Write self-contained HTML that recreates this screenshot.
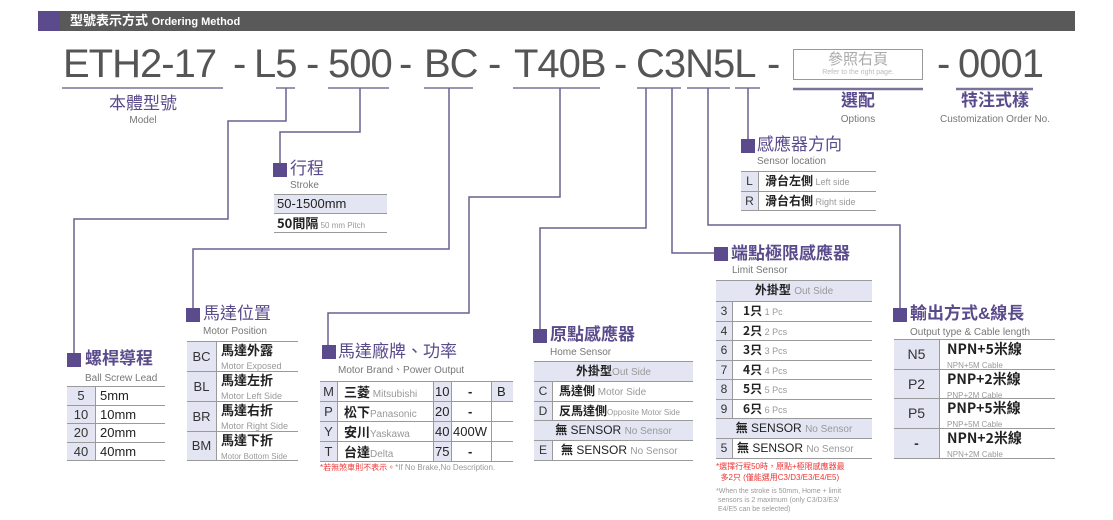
<!DOCTYPE html>
<html><head><meta charset="utf-8"><style>
*{margin:0;padding:0;box-sizing:border-box}
body{width:1113px;height:520px;background:#fff;position:relative;overflow:hidden;font-family:"Liberation Sans","Noto Sans CJK TC",sans-serif;color:#222}
.a{position:absolute;white-space:nowrap}
.big{font-size:40px;color:#555;line-height:40px;top:44px;letter-spacing:-1px}
.sq{position:absolute;width:14px;height:14px;background:#5b4a8c}
.h{position:absolute;font-size:17px;color:#5a4b8c;line-height:18px;white-space:nowrap;font-family:"Liberation Sans","Noto Sans CJK TC",sans-serif}
.s{position:absolute;font-size:10px;color:#777;line-height:11px;white-space:nowrap}
.r{position:absolute;left:0;right:0;border-bottom:1.5px solid #9a9a9a;white-space:nowrap}
.bg{background:#e3e5f2}
.c1{position:absolute;left:0;top:0;bottom:0;background:#e3e5f2;border-right:1.5px solid #9a9a9a;text-align:center;color:#333}
.zh{font-family:"Noto Sans CJK TC",sans-serif;font-weight:bold;color:#222}
.g{color:#999;font-weight:normal;font-family:"Liberation Sans",sans-serif}
</style></head><body>
<div class="a" style="left:38px;top:11px;width:1037px;height:20px;background:#595959"></div>
<div class="a" style="left:38px;top:11px;width:22px;height:20px;background:#5b4a8c"></div>
<div class="a" style="left:70px;top:12px;font-size:13px;line-height:18px;color:#fff;font-weight:bold">型號表示方式 <span style="font-size:11px">Ordering Method</span></div>

<div class="a big" style="left:63px">ETH2-17</div>
<div class="a big" style="left:233px">-</div>
<div class="a big" style="left:254px">L5</div>
<div class="a big" style="left:306px">-</div>
<div class="a big" style="left:328px">500</div>
<div class="a big" style="left:399px">-</div>
<div class="a big" style="left:424px">BC</div>
<div class="a big" style="left:488px">-</div>
<div class="a big" style="left:514px">T40B</div>
<div class="a big" style="left:614px">-</div>
<div class="a big" style="left:636px">C3N5L</div>
<div class="a big" style="left:767px">-</div>
<div class="a big" style="left:937px">-</div>
<div class="a big" style="left:958px">0001</div>
<div class="a" style="left:793px;top:49px;width:130px;height:31px;border:1.5px solid #999"></div>
<div class="a" style="left:793px;top:51px;width:130px;text-align:center;font-size:15px;color:#aaa;line-height:18px">參照右頁</div>
<div class="a" style="left:793px;top:69px;width:130px;text-align:center;font-size:7px;color:#bbb">Refer to the right page.</div>

<svg class="a" style="left:0;top:0" width="1113" height="520">
<g stroke="#7a7399" stroke-width="1.5" fill="none">
<line x1="62" y1="88" x2="223" y2="88"/><line x1="276" y1="88" x2="295" y2="88"/>
<line x1="328" y1="88" x2="389" y2="88"/><line x1="424" y1="88" x2="473" y2="88"/>
<line x1="513" y1="88" x2="600" y2="88"/><line x1="637" y1="88" x2="681" y2="88"/>
<line x1="687" y1="88" x2="730" y2="88"/><line x1="735" y1="88" x2="760" y2="88"/>
<line x1="793" y1="89" x2="923" y2="89" stroke-width="2.5"/><line x1="956" y1="89" x2="1033" y2="89" stroke-width="2.5"/>
</g>
<g stroke="#6b6190" stroke-width="1.5" fill="none">
<polyline points="286,88 286,121 228,121 228,219 74,219 74,353"/>
<polyline points="360,88 360,132 280,132 280,163"/>
<polyline points="449,88 449,249 193,249 193,308"/>
<polyline points="560,88 560,197 469,197 469,313 328,313 328,345"/>
<polyline points="646,88 646,228 540,228 540,329"/>
<polyline points="672,88 672,253 714,253"/>
<polyline points="708,88 708,225 900,225 900,309"/>
<polyline points="748,88 748,139"/>
</g></svg>

<div class="h" style="left:103px;top:95px;width:80px;text-align:center">本體型號</div>
<div class="s" style="left:103px;top:115px;width:80px;text-align:center">Model</div>
<div class="h" style="left:818px;top:92px;width:80px;text-align:center;font-weight:bold">選配</div>
<div class="s" style="left:818px;top:114px;width:80px;text-align:center">Options</div>
<div class="h" style="left:945px;top:92px;width:100px;text-align:center;font-weight:bold">特注式樣</div>
<div class="s" style="left:920px;top:114px;width:150px;text-align:center">Customization Order No.</div>

<div class="sq" style="left:273px;top:163px"></div>
<div class="h" style="left:290px;top:160px">行程</div>
<div class="s" style="left:290px;top:180px">Stroke</div>
<div class="a" style="left:274px;top:194px;width:113px;height:38px;border-top:1.5px solid #9a9a9a">
 <div class="r bg" style="top:0;height:19px;font-size:13px;line-height:18px;padding-left:3px">50-1500mm</div>
 <div class="r" style="top:19px;height:19px;font-size:13px;line-height:18px;padding-left:3px"><span class="zh">50間隔</span><span class="g" style="font-size:8px"> 50 mm Pitch</span></div>
</div>

<div class="sq" style="left:67px;top:353px"></div>
<div class="h" style="left:85px;top:350px;font-weight:bold">螺桿導程</div>
<div class="s" style="left:85px;top:373px">Ball Screw Lead</div>
<div class="a" style="left:67px;top:386px;width:98px;height:74px;border-top:1.5px solid #9a9a9a;font-size:13px;line-height:17px">
 <div class="r" style="top:0;height:18.5px"><div class="c1" style="width:29px">5</div><span style="position:absolute;left:33px">5mm</span></div>
 <div class="r" style="top:18.5px;height:18.5px"><div class="c1" style="width:29px">10</div><span style="position:absolute;left:33px">10mm</span></div>
 <div class="r" style="top:37px;height:18.5px"><div class="c1" style="width:29px">20</div><span style="position:absolute;left:33px">20mm</span></div>
 <div class="r" style="top:55.5px;height:18.5px"><div class="c1" style="width:29px">40</div><span style="position:absolute;left:33px">40mm</span></div>
</div>

<div class="sq" style="left:186px;top:308px"></div>
<div class="h" style="left:203px;top:305px">馬達位置</div>
<div class="s" style="left:203px;top:326px">Motor Position</div>
<div class="a" style="left:187px;top:341px;width:111px;height:119px;border-top:1.5px solid #9a9a9a">
 <div class="r" style="top:0;height:30px"><div class="c1" style="width:30px;font-size:13px;line-height:29px">BC</div><div style="position:absolute;left:34px;top:1px;font-size:13px;line-height:14px"><span class="zh">馬達外露</span><br><span class="g" style="font-size:9px">Motor Exposed</span></div></div>
 <div class="r" style="top:30px;height:30px"><div class="c1" style="width:30px;font-size:13px;line-height:29px">BL</div><div style="position:absolute;left:34px;top:1px;font-size:13px;line-height:14px"><span class="zh">馬達左折</span><br><span class="g" style="font-size:9px">Motor Left Side</span></div></div>
 <div class="r" style="top:60px;height:30px"><div class="c1" style="width:30px;font-size:13px;line-height:29px">BR</div><div style="position:absolute;left:34px;top:1px;font-size:13px;line-height:14px"><span class="zh">馬達右折</span><br><span class="g" style="font-size:9px">Motor Right Side</span></div></div>
 <div class="r" style="top:90px;height:29px"><div class="c1" style="width:30px;font-size:13px;line-height:28px">BM</div><div style="position:absolute;left:34px;top:1px;font-size:13px;line-height:14px"><span class="zh">馬達下折</span><br><span class="g" style="font-size:8px">Motor Bottom Side</span></div></div>
</div>

<div class="sq" style="left:322px;top:345px"></div>
<div class="h" style="left:338px;top:343px">馬達廠牌、功率</div>
<div class="s" style="left:338px;top:365px">Motor Brand、Power Output</div>
<div class="a" style="left:320px;top:381px;width:193px;height:80px;border-top:1.5px solid #9a9a9a;font-size:13px;line-height:19px">
 <div class="a bg" style="left:113px;top:0;width:18px;height:80px"></div>
 <div class="a bg" style="left:171px;top:0;width:22px;height:20px"></div>
 <div class="a" style="left:113px;top:0;height:80px;border-left:1.5px solid #9a9a9a"></div>
 <div class="a" style="left:131px;top:0;height:80px;border-left:1.5px solid #9a9a9a"></div>
 <div class="a" style="left:171px;top:0;height:80px;border-left:1.5px solid #9a9a9a"></div>
 <div class="r" style="top:0;height:20px"><div class="c1" style="width:18px">M</div><span style="position:absolute;left:24px"><span class="zh">三菱</span><span class="g" style="font-size:10px"> Mitsubishi</span></span><span style="position:absolute;left:115px">10</span><span style="position:absolute;left:148px;font-weight:bold">-</span><span style="position:absolute;left:177px">B</span></div>
 <div class="r" style="top:20px;height:20px"><div class="c1" style="width:18px">P</div><span style="position:absolute;left:24px"><span class="zh">松下</span><span class="g" style="font-size:10px">Panasonic</span></span><span style="position:absolute;left:115px">20</span><span style="position:absolute;left:148px;font-weight:bold">-</span></div>
 <div class="r" style="top:40px;height:20px"><div class="c1" style="width:18px">Y</div><span style="position:absolute;left:24px"><span class="zh">安川</span><span class="g" style="font-size:10px">Yaskawa</span></span><span style="position:absolute;left:115px">40</span><span style="position:absolute;left:133px">400W</span></div>
 <div class="r" style="top:60px;height:20px"><div class="c1" style="width:18px">T</div><span style="position:absolute;left:24px"><span class="zh">台達</span><span class="g" style="font-size:10px">Delta</span></span><span style="position:absolute;left:115px">75</span><span style="position:absolute;left:148px;font-weight:bold">-</span></div>
</div>
<div class="a" style="left:320px;top:462px;font-size:8px;color:#e33">*若無煞車則不表示。<span style="color:#999">*If No Brake,No Description.</span></div>

<div class="sq" style="left:533px;top:329px"></div>
<div class="h" style="left:550px;top:326px;font-weight:bold">原點感應器</div>
<div class="s" style="left:550px;top:347px">Home Sensor</div>
<div class="a" style="left:534px;top:361px;width:159px;height:99px;border-top:1.5px solid #9a9a9a;font-size:12px;line-height:18px">
 <div class="r bg" style="top:0;height:20px;text-align:center"><span class="zh">外掛型</span><span class="g" style="font-size:10px">Out Side</span></div>
 <div class="r" style="top:20px;height:19.5px"><div class="c1" style="width:19px">C</div><span style="position:absolute;left:25px"><span class="zh">馬達側</span><span class="g" style="font-size:10px"> Motor Side</span></span></div>
 <div class="r" style="top:39.5px;height:19.5px"><div class="c1" style="width:19px">D</div><span style="position:absolute;left:25px"><span class="zh">反馬達側</span><span class="g" style="font-size:8px">Opposite Motor Side</span></span></div>
 <div class="r bg" style="top:59px;height:20px;text-align:center"><span class="zh">無</span> SENSOR <span class="g" style="font-size:10px"> No Sensor</span></div>
 <div class="r" style="top:79px;height:20px"><div class="c1" style="width:19px">E</div><span style="position:absolute;left:27px"><span class="zh">無</span> SENSOR <span class="g" style="font-size:10px"> No Sensor</span></span></div>
</div>

<div class="sq" style="left:741px;top:139px"></div>
<div class="h" style="left:757px;top:136px">感應器方向</div>
<div class="s" style="left:757px;top:156px">Sensor location</div>
<div class="a" style="left:741px;top:171px;width:135px;height:39px;border-top:1.5px solid #9a9a9a;font-size:12px;line-height:18px">
 <div class="r" style="top:0;height:19.5px"><div class="c1" style="width:18px">L</div><span style="position:absolute;left:24px"><span class="zh">滑台左側</span><span class="g" style="font-size:9px"> Left side</span></span></div>
 <div class="r" style="top:19.5px;height:19.5px"><div class="c1" style="width:18px">R</div><span style="position:absolute;left:24px"><span class="zh">滑台右側</span><span class="g" style="font-size:9px"> Right side</span></span></div>
</div>

<div class="sq" style="left:714px;top:247px"></div>
<div class="h" style="left:731px;top:245px;font-weight:bold">端點極限感應器</div>
<div class="s" style="left:732px;top:265px">Limit Sensor</div>
<div class="a" style="left:716px;top:280px;width:156px;height:178px;border-top:1.5px solid #9a9a9a;font-size:12px;line-height:18px">
 <div class="r bg" style="top:0;height:21px;text-align:center"><span class="zh">外掛型</span> <span class="g" style="font-size:10px">Out Side</span></div>
 <div class="r" style="top:21px;height:19.5px"><div class="c1" style="width:17px">3</div><span style="position:absolute;left:27px"><span class="zh">1只</span><span class="g" style="font-size:9px">  1 Pc</span></span></div>
 <div class="r" style="top:40.5px;height:19.5px"><div class="c1" style="width:17px">4</div><span style="position:absolute;left:27px"><span class="zh">2只</span><span class="g" style="font-size:9px">  2 Pcs</span></span></div>
 <div class="r" style="top:60px;height:19.5px"><div class="c1" style="width:17px">6</div><span style="position:absolute;left:27px"><span class="zh">3只</span><span class="g" style="font-size:9px">  3 Pcs</span></span></div>
 <div class="r" style="top:79.5px;height:19.5px"><div class="c1" style="width:17px">7</div><span style="position:absolute;left:27px"><span class="zh">4只</span><span class="g" style="font-size:9px">  4 Pcs</span></span></div>
 <div class="r" style="top:99px;height:19.5px"><div class="c1" style="width:17px">8</div><span style="position:absolute;left:27px"><span class="zh">5只</span><span class="g" style="font-size:9px">  5 Pcs</span></span></div>
 <div class="r" style="top:118.5px;height:19.5px"><div class="c1" style="width:17px">9</div><span style="position:absolute;left:27px"><span class="zh">6只</span><span class="g" style="font-size:9px">  6 Pcs</span></span></div>
 <div class="r bg" style="top:138px;height:20px;text-align:center"><span class="zh">無</span> SENSOR <span class="g" style="font-size:10px"> No Sensor</span></div>
 <div class="r" style="top:158px;height:20px"><div class="c1" style="width:17px">5</div><span style="position:absolute;left:21px"><span class="zh">無</span> SENSOR <span class="g" style="font-size:10px"> No Sensor</span></span></div>
</div>
<div class="a" style="left:716px;top:461px;font-size:8px;line-height:11px;color:#e33">*選擇行程50時，原點+極限感應器最<br>&nbsp;&nbsp;多2只 (僅能選用C3/D3/E3/E4/E5)</div>
<div class="a" style="left:716px;top:487px;font-size:7px;line-height:9px;color:#999">*When the stroke is 50mm, Home + limit<br>&nbsp;sensors is 2 maximum (only C3/D3/E3/<br>&nbsp;E4/E5 can be selected)</div>

<div class="sq" style="left:893px;top:308px"></div>
<div class="h" style="left:910px;top:305px;font-weight:bold">輸出方式&amp;線長</div>
<div class="s" style="left:910px;top:327px">Output type &amp; Cable length</div>
<div class="a" style="left:894px;top:339px;width:161px;height:119px;border-top:1.5px solid #9a9a9a;font-size:14px">
 <div class="r" style="top:0;height:29.5px"><div class="c1" style="width:46px;line-height:28px">N5</div><div style="position:absolute;left:53px;top:2px;line-height:14px"><span class="zh">NPN+5米線</span><br><span class="g" style="font-size:8px">NPN+5M Cable</span></div></div>
 <div class="r" style="top:29.5px;height:29.5px"><div class="c1" style="width:46px;line-height:28px">P2</div><div style="position:absolute;left:53px;top:2px;line-height:14px"><span class="zh">PNP+2米線</span><br><span class="g" style="font-size:8px">PNP+2M Cable</span></div></div>
 <div class="r" style="top:59px;height:29.5px"><div class="c1" style="width:46px;line-height:28px">P5</div><div style="position:absolute;left:53px;top:2px;line-height:14px"><span class="zh">PNP+5米線</span><br><span class="g" style="font-size:8px">PNP+5M Cable</span></div></div>
 <div class="r" style="top:88.5px;height:30.5px"><div class="c1" style="width:46px;line-height:29px;font-weight:bold">-</div><div style="position:absolute;left:53px;top:2px;line-height:14px"><span class="zh">NPN+2米線</span><br><span class="g" style="font-size:8px">NPN+2M Cable</span></div></div>
</div>
</body></html>
